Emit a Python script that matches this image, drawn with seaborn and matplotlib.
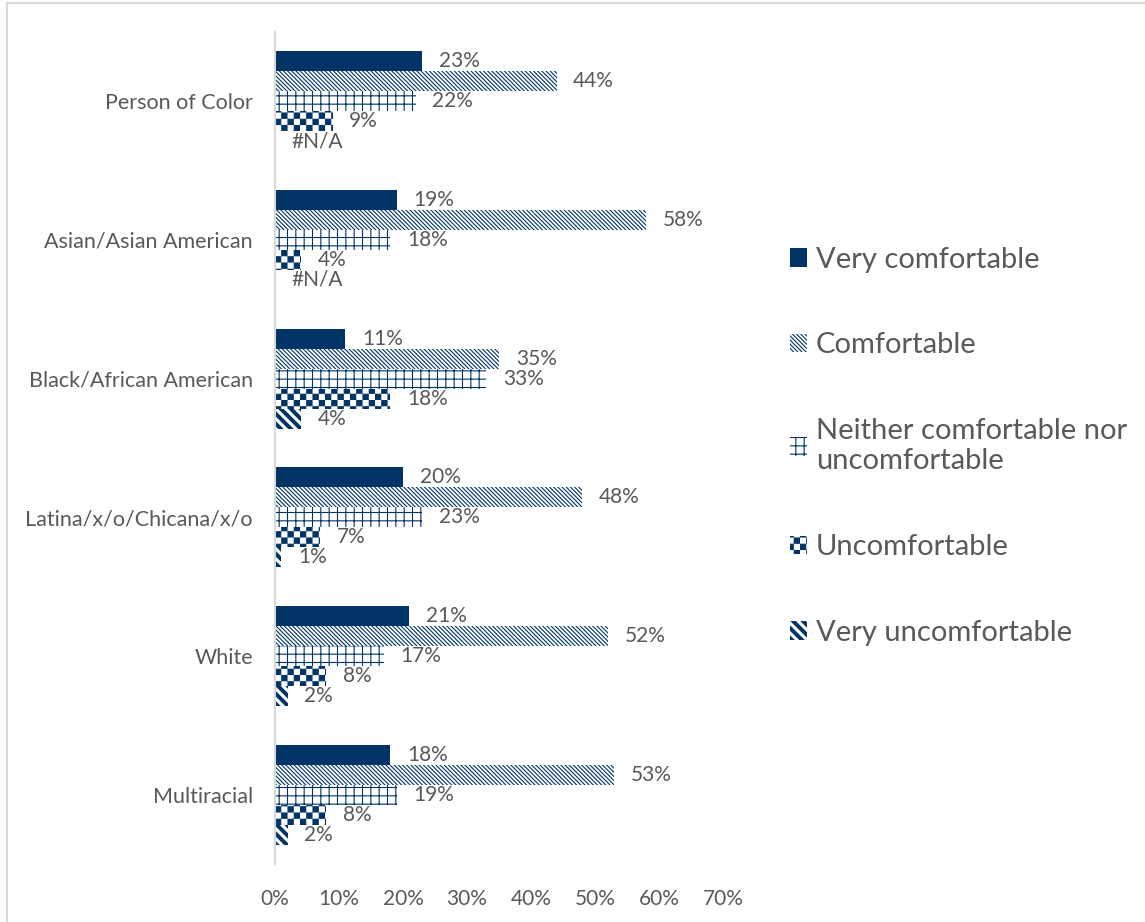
import matplotlib

matplotlib.use("Agg")
import matplotlib.hatch as mhatch
import matplotlib.pyplot as plt
import numpy as np
import pandas as pd
import seaborn as sns
from matplotlib.lines import Line2D
from matplotlib.path import Path

groups = [
    "Person of Color",
    "Asian/Asian American",
    "Black/African American",
    "Latina/x/o/Chicana/x/o",
    "White",
    "Multiracial",
]
levels = [
    "Very comfortable",
    "Comfortable",
    "Neither comfortable nor uncomfortable",
    "Uncomfortable",
    "Very uncomfortable",
]
very_comfortable = [23, 19, 11, 20, 21, 18]
comfortable = [44, 58, 35, 48, 52, 53]
neither = [22, 18, 33, 23, 17, 19]
uncomfortable = [9, 4, 18, 7, 8, 8]
very_uncomfortable = [np.nan, np.nan, 4, 1, 2, 2]
xticks = [0, 10, 20, 30, 40, 50, 60, 70]

navy = "#003366"
grey = "#595959"


# custom filled hatches (checkerboard on "o", thick stripes on "O")
class CheckerHatch(mhatch.HatchPatternBase):
    def __init__(self, hatch, density):
        self.n = hatch.count("o") * 16
        self.cells = [(i, j) for i in range(self.n) for j in range(self.n) if (i + j) % 2 == 0]
        self.num_vertices = 5 * len(self.cells)

    def set_vertices_and_codes(self, vertices, codes):
        s = 1.0 / self.n
        e = 0.005
        sq = np.array([[e, e], [s - e, e], [s - e, s - e], [e, s - e], [e, e]])
        code = [Path.MOVETO, Path.LINETO, Path.LINETO, Path.LINETO, Path.CLOSEPOLY]
        for k, (i, j) in enumerate(self.cells):
            vertices[5 * k:5 * k + 5] = sq + [i * s, j * s]
            codes[5 * k:5 * k + 5] = code


class StripeHatch(mhatch.HatchPatternBase):
    def __init__(self, hatch, density):
        self.n = hatch.count("O") * 10
        self.ks = list(range(-1, 2 * self.n + 2))
        self.num_vertices = 5 * len(self.ks) if self.n else 0

    def set_vertices_and_codes(self, vertices, codes):
        w = 0.04
        code = [Path.MOVETO, Path.LINETO, Path.LINETO, Path.LINETO, Path.CLOSEPOLY]
        for m, k in enumerate(self.ks):
            c = k / self.n
            poly = np.array([[-1, c + 1], [2, c - 2], [2, c - 2 + w], [-1, c + 1 + w], [-1, c + 1]])
            vertices[5 * m:5 * m + 5] = poly
            codes[5 * m:5 * m + 5] = code


mhatch._hatch_types = [
    mhatch.HorizontalHatch,
    mhatch.VerticalHatch,
    mhatch.NorthEastHatch,
    mhatch.SouthEastHatch,
    CheckerHatch,
    StripeHatch,
]

sns.set_style("white")
plt.rcParams["font.family"] = ["Lato", "DejaVu Sans"]
plt.rcParams["hatch.linewidth"] = 0.8

series = [very_comfortable, comfortable, neither, uncomfortable, very_uncomfortable]
df = pd.DataFrame(
    [(g, lev, v) for lev, vals in zip(levels, series) for g, v in zip(groups, vals)],
    columns=["group", "level", "value"],
)
df["plot_value"] = df["value"].fillna(0)

fig = plt.figure(figsize=(11.45, 9.22), dpi=100)
ax = fig.add_axes([0.2402, 0.0629, 0.6314 - 0.2402, 0.9653 - 0.0629])

sns.barplot(
    data=df, y="group", x="plot_value", hue="level", orient="h",
    order=groups, hue_order=levels, width=0.72, ax=ax,
    palette=[navy] * 5, saturation=1, legend=True,
)

hatches = [None, "\\" * 8, "++", "o", "O"]
for cont, h, lev in zip(ax.containers, hatches, levels):
    for bar in cont:
        bar.set_linewidth(0)
        if h:
            bar.set_facecolor("white")
            bar.set_edgecolor(navy)
            bar.set_hatch(h)
    raw = df.loc[df["level"] == lev, "value"].tolist()
    labels = ["#N/A" if np.isnan(v) else f"{v:.0f}%" for v in raw]
    ax.bar_label(cont, labels=labels, padding=12, fontsize=15, color=grey)

ax.set_xlim(0, 70)
ax.set_ylim(5.5, -0.5)
ax.set_xticks(xticks)
ax.set_xticklabels([f"{t}%" for t in xticks])
ax.set_xlabel("")
ax.set_ylabel("")
ax.tick_params(axis="x", length=0, pad=18, labelsize=15, labelcolor=grey)
ax.tick_params(axis="y", length=0, pad=16, labelsize=15.5, labelcolor=grey)
for side in ["top", "right", "bottom"]:
    ax.spines[side].set_visible(False)
ax.spines["left"].set_color("#d9d9d9")
ax.spines["left"].set_linewidth(1.5)

handles, _ = ax.get_legend_handles_labels()
for hnd, h in zip(handles, hatches):
    hnd.set_linewidth(0)
    if h:
        hnd.set_facecolor("white")
        hnd.set_edgecolor(navy)
        hnd.set_hatch(h)
leg_labels = levels[:2] + ["Neither comfortable nor\nuncomfortable"] + levels[3:]
ax.legend(
    handles, leg_labels, loc="center left", bbox_to_anchor=(1.09, 0.502),
    frameon=False, fontsize=21, labelcolor=grey, handlelength=0.6, handleheight=0.6,
    handletextpad=0.3, labelspacing=2.05,
)

# outer chart border (top and left edges visible)
fig.add_artist(Line2D([7 / 1145, 7 / 1145], [0, 1 - 3 / 922], color="#d9d9d9", lw=1.5))
fig.add_artist(Line2D([7 / 1145, 1], [1 - 3 / 922, 1 - 3 / 922], color="#d9d9d9", lw=1.5))

fig.savefig("out.png", dpi=100)
